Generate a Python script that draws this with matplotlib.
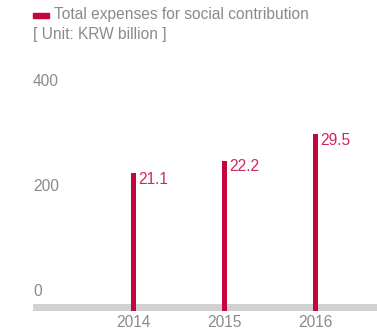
import matplotlib
matplotlib.use('Agg')
from matplotlib import pyplot as plt

plt.rcParams['font.family'] = ['Liberation Sans', 'DejaVu Sans']

years = ['2014', '2015', '2016']
heights = [225, 248, 299]
labels = ['21.1', '22.2', '29.5']
yticks = [0, 200, 400]

red = '#c4063c'
labelred = '#d0285a'
gray = '#8a8a8a'

fig = plt.figure(figsize=(3.77, 3.31), dpi=100)
ax = fig.add_axes([0.0875, 0.0604, 0.9125, 0.758])
ymin, ymax = -38, 440
ax.set_ylim(ymin, ymax)
ax.set_xlim(-1.099, 2.68)

ax.axhspan(ymin, -24.8, color='#d1d1d3', zorder=1, lw=0)

x = list(range(len(years)))
ax.bar(x, [h - ymin for h in heights], bottom=ymin, width=0.055, color=red, zorder=2)

for i in x:
    ax.annotate(labels[i], (i, heights[i]), xytext=(4, 1), textcoords='offset points',
                ha='left', va='top', color=labelred, fontsize=11.2)

for t in yticks:
    ax.text(-1.099, t, str(t), ha='left', va='center', color=gray, fontsize=11.2)

for i in x:
    ax.annotate(years[i], (i, ymin), xytext=(0, -3), textcoords='offset points',
                ha='center', va='top', color=gray, fontsize=11.2)

for s in ax.spines.values():
    s.set_visible(False)
ax.set_xticks([])
ax.set_yticks([])

fig.patches.append(plt.Rectangle((33 / 377, 1 - 17.5 / 331), 16 / 377, 4 / 331,
                                 transform=fig.transFigure, color=red))
fig.text(54 / 377, 1 - 15 / 331, 'Total expenses for social contribution', ha='left',
         va='center', color=gray, fontsize=11.2)
fig.text(33 / 377, 1 - 35 / 331, '[ Unit: KRW billion ]', ha='left', va='center',
         color=gray, fontsize=11.2)

fig.savefig('out.png', dpi=100)
